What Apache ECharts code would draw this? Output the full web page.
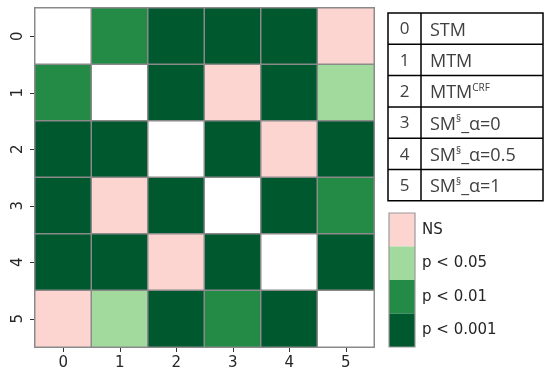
<!DOCTYPE html>
<html><head><meta charset="utf-8">
<script src="https://cdn.jsdelivr.net/npm/echarts@6/dist/echarts.min.js"></script>
<style>html,body{margin:0;padding:0;background:#fff}#c{width:550px;height:379px}</style>
</head><body><div id="c"></div>
<script>
// ---- data ----
const axisLabels = ['0', '1', '2', '3', '4', '5'];
// significance level: -1 = same method (diagonal), 0 = NS, 1 = p<0.05, 2 = p<0.01, 3 = p<0.001
const row0 = [-1, 2, 3, 3, 3, 0];
const row1 = [2, -1, 3, 0, 3, 1];
const row2 = [3, 3, -1, 3, 0, 3];
const row3 = [3, 0, 3, -1, 3, 2];
const row4 = [3, 3, 0, 3, -1, 3];
const row5 = [0, 1, 3, 2, 3, -1];
const matrix = [row0, row1, row2, row3, row4, row5];
const levelLabels = ['NS', 'p < 0.05', 'p < 0.01', 'p < 0.001'];
const levelColors = ['#fcd5d1', '#a2d99c', '#248b46', '#00582e'];
const methodBase = ['STM', 'MTM', 'MTM', 'SM', 'SM', 'SM'];
const methodSup = ['', '', 'CRF', '§', '§', '§'];
const methodSuffix = ['', '', '', '_α=0', '_α=0.5', '_α=1'];

// ---- build ----
const data = [];
matrix.forEach((row, r) => row.forEach((v, c) => data.push([c, r, v])));

const tblL = 388, tblR = 543, tblT = 13, rowH = 31.3, divX = 421;
const tbl = [];
tbl.push({type: 'rect', shape: {x: tblL, y: tblT, width: tblR - tblL, height: rowH * 6},
  style: {fill: 'none', stroke: '#000', lineWidth: 1.5}});
tbl.push({type: 'line', shape: {x1: divX, y1: tblT, x2: divX, y2: tblT + rowH * 6},
  style: {stroke: '#000', lineWidth: 1.5}});
for (let i = 1; i < 6; i++) {
  tbl.push({type: 'line', shape: {x1: tblL, y1: tblT + rowH * i, x2: tblR, y2: tblT + rowH * i},
    style: {stroke: '#000', lineWidth: 1.5}});
}
const tFont = 'Open Sans';
axisLabels.forEach((lab, i) => {
  const cy = tblT + rowH * i + rowH / 2 + 1;
  tbl.push({type: 'text', x: (tblL + divX) / 2, y: cy,
    style: {text: lab, fill: '#404040', font: '17px "' + tFont + '"', align: 'center', verticalAlign: 'middle'}});
  let txt = '{n|' + methodBase[i] + '}';
  if (methodSup[i]) txt += '{s|' + methodSup[i] + '}';
  if (methodSuffix[i]) txt += '{n|' + methodSuffix[i] + '}';
  tbl.push({type: 'text', x: 430, y: cy,
    style: {text: txt, align: 'left', verticalAlign: 'middle',
      rich: {
        n: {fontFamily: tFont, fontSize: 18, fill: '#404040', lineHeight: 20, verticalAlign: 'bottom'},
        s: {fontFamily: tFont, fontSize: 10, fill: '#404040', lineHeight: 20, verticalAlign: 'bottom', padding: [0, 0, 9, 0]}
      }}});
});

const chart = echarts.init(document.getElementById('c'), null, {renderer: 'canvas'});
chart.setOption({
  animation: false,
  backgroundColor: '#fff',
  grid: {left: 35, top: 8, width: 339, height: 339},
  xAxis: {type: 'category', data: axisLabels,
    axisLine: {show: false},
    axisTick: {show: true, alignWithLabel: true, length: 5, lineStyle: {color: '#333'}},
    axisLabel: {fontFamily: 'DejaVu Sans', fontSize: 15, color: '#262626', margin: 9},
    splitLine: {show: false}},
  yAxis: {type: 'category', data: axisLabels, inverse: true,
    axisLine: {show: false},
    axisTick: {show: true, alignWithLabel: true, length: 5, lineStyle: {color: '#333'}},
    axisLabel: {fontFamily: 'DejaVu Sans', fontSize: 15, color: '#262626', rotate: 90, margin: 9},
    splitLine: {show: false}},
  visualMap: {
    type: 'piecewise', orient: 'vertical', inverse: true, align: 'left',
    left: 389, top: 213, itemWidth: 26, itemHeight: 33.5, itemGap: 0, itemSymbol: 'rect',
    textGap: 7, padding: 0, selectedMode: false,
    textStyle: {fontFamily: 'DejaVu Sans', fontSize: 15, color: '#262626'},
    pieces: levelLabels.map((l, i) => ({value: i, label: l, color: levelColors[i]})),
    outOfRange: {color: '#ffffff'}
  },
  series: [{
    type: 'heatmap', data: data,
    itemStyle: {borderColor: '#8a8a8a', borderWidth: 1.5},
    emphasis: {disabled: true}
  }],
  graphic: [
    {type: 'rect', shape: {x: 389, y: 213, width: 26, height: 134},
      style: {fill: 'none', stroke: '#999', lineWidth: 1.2}, z: 100},
    {type: 'group', children: tbl}
  ]
});
</script></body></html>
